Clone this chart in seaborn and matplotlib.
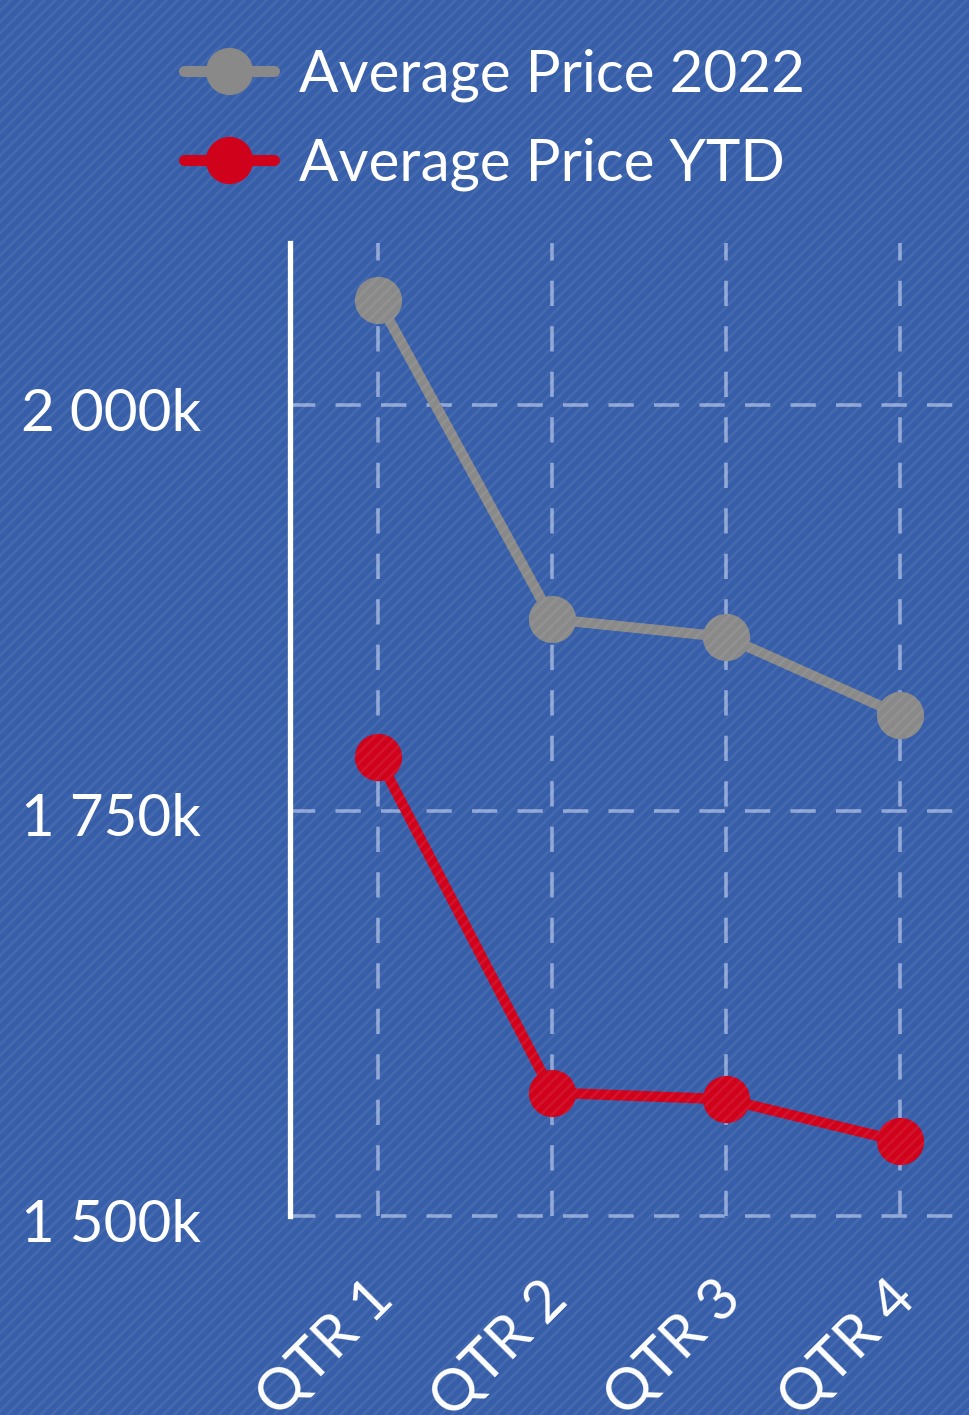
import numpy as np
import pandas as pd
import matplotlib
matplotlib.use("Agg")
import matplotlib.pyplot as plt
import matplotlib.transforms as mtransforms
from matplotlib.lines import Line2D
from matplotlib.patches import Rectangle
import seaborn as sns

# --- data (average price, in thousands) ---
quarters = ["QTR 1", "QTR 2", "QTR 3", "QTR 4"]
price_2022 = [2065, 1868, 1857, 1809]
price_ytd = [1783, 1576, 1572, 1546]
series_names = ["Average Price 2022", "Average Price YTD"]
y_ticks = [1500, 1750, 2000]

colors = {"Average Price 2022": "#898989", "Average Price YTD": "#d0021b"}
bg = "#375ea8"
grid_col = "#8fa6d6"

df = pd.DataFrame({
    "quarter": quarters * 2,
    "price": price_2022 + price_ytd,
    "series": [series_names[0]] * 4 + [series_names[1]] * 4,
})

sns.set_theme(style="white")
plt.rcParams["font.family"] = ["Lato", "DejaVu Sans"]
plt.rcParams["hatch.linewidth"] = 2.0

fig = plt.figure(figsize=(9.7, 14.15), dpi=100)
fig.patch.set_facecolor(bg)

# carbon-like diagonal texture
fig.patches.append(Rectangle((0, 0), 1, 1, transform=fig.transFigure, facecolor="none",
                             edgecolor=(1, 1, 1, 0.07), hatch="///", linewidth=0, zorder=0))

ax = fig.add_axes([290 / 970, 1 - 1216 / 1415, 1 - 290 / 970, (1216 - 243) / 1415])
ax.set_facecolor("none")

sns.lineplot(data=df, x="quarter", y="price", hue="series", palette=colors, sort=False,
             marker="o", markersize=34, markeredgewidth=0, linewidth=7.5, legend=False,
             ax=ax, zorder=3)

ax.set_xlim(-0.506, 3.4)
ax.set_ylim(1500, 2100)
ax.set_yticks(y_ticks)
ax.set_yticklabels([f"{v:,.0f}k".replace(",", " ") for v in y_ticks])
ax.set_xlabel("")
ax.set_ylabel("")

for v in range(len(quarters)):
    ax.axvline(v, color=grid_col, lw=2.6, dashes=(7, 5.6), zorder=1)
for v in y_ticks:
    ax.axhline(v, color=grid_col, lw=2.6, dashes=(7, 5.6), zorder=1, clip_on=False)

for s in ["top", "right", "bottom"]:
    ax.spines[s].set_visible(False)
ax.spines["left"].set_color("white")
ax.spines["left"].set_linewidth(3.8)
ax.spines["left"].set_zorder(4)

ax.tick_params(axis="y", length=0, pad=64, labelsize=42, labelcolor="white")
ax.tick_params(axis="x", length=0, pad=40, labelsize=42, labelcolor="white")
y_off = mtransforms.ScaledTranslation(0, -4 / 100, fig.dpi_scale_trans)
for lab in ax.get_yticklabels():
    lab.set_transform(lab.get_transform() + y_off)
x_off = mtransforms.ScaledTranslation(25 / 100, 0, fig.dpi_scale_trans)
for lab in ax.get_xticklabels():
    lab.set_rotation(45)
    lab.set_ha("right")
    lab.set_transform(lab.get_transform() + x_off)

handles = [Line2D([0], [0], color=colors[n], lw=8, marker="o", markersize=34,
                  markeredgewidth=0) for n in series_names]
fig.legend(handles, series_names, loc="upper left", bbox_to_anchor=(184 / 970, 1 - 48 / 1415),
           frameon=False, fontsize=42, labelcolor="white", handlelength=1.55,
           handletextpad=0.42, labelspacing=0.62, borderpad=0, borderaxespad=0)

fig.savefig("out.png", dpi=100, facecolor=fig.get_facecolor())
